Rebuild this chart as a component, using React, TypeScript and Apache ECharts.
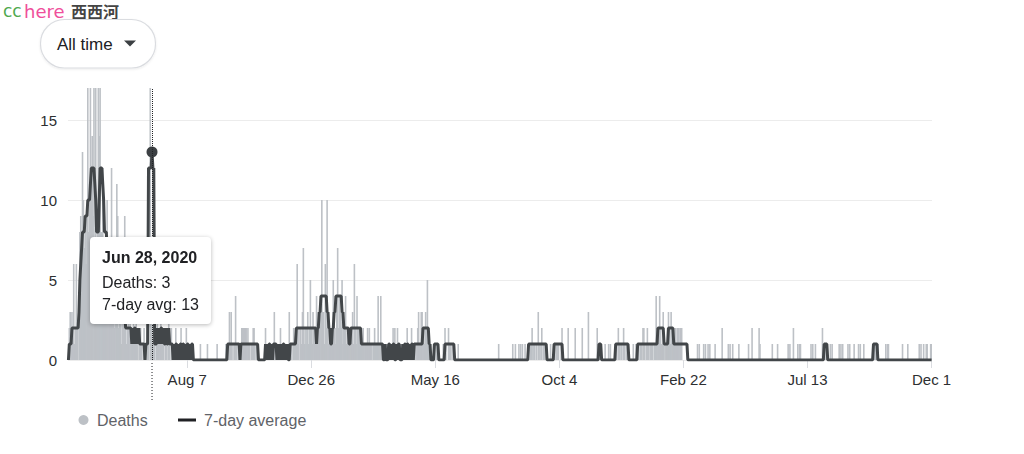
import React, { useEffect, useRef } from "react";
import * as echarts from "echarts";

const FONT = "'Liberation Sans', Arial, Helvetica, sans-serif";

// first day of the series
const startYear = 2020;
const startMonth = 3; // March
const startDay = 25;

const tickDates = ["2020-08-07", "2020-12-26", "2021-05-16", "2021-10-04", "2022-02-22", "2022-07-13", "2022-12-01"];
const tickLabels = ["Aug 7", "Dec 26", "May 16", "Oct 4", "Feb 22", "Jul 13", "Dec 1"];
const highlightDate = "2020-06-28";

// daily deaths, Mar 25 2020 – Dec 31 2020
const deaths2020 = [
  1, 2, 3, 1, 3, 2, 6, 1, 2, 6,
  2, 0, 4, 8, 9, 6, 13, 10, 7, 8,
  6, 9, 18, 8, 11, 17, 12, 14, 9, 18,
  6, 18, 5, 9, 17, 14, 19, 8, 8, 12,
  6, 4, 7, 8, 10, 5, 7, 4, 6, 12,
  3, 5, 2, 6, 4, 11, 9, 2, 3, 4,
  1, 3, 2, 5, 9, 3, 1, 2, 3, 2,
  4, 1, 2, 1, 3, 1, 2, 5, 1, 2,
  0, 1, 2, 1, 0, 1, 2, 0, 0, 1,
  2, 1, 0, 84, 2, 3, 1, 2, 1, 0,
  2, 3, 1, 2, 1, 3, 2, 1, 2, 0,
  1, 2, 1, 0, 3, 1, 0, 2, 1, 0,
  1, 0, 2, 1, 0, 1, 1, 0, 2, 1,
  0, 1, 1, 0, 2, 0, 1, 1, 0, 1,
  0, 1, 0, 0, 0, 0, 0, 0, 0, 0,
  1, 0, 0, 0, 0, 0, 0, 0, 1, 0,
  0, 0, 0, 0, 0, 0, 0, 0, 0, 1,
  0, 0, 0, 0, 0, 0, 0, 0, 0, 1,
  1, 1, 1, 3, 1, 3, 0, 1, 0, 1,
  4, 1, 0, 1, 0, 0, 1, 2, 2, 2,
  2, 2, 2, 1, 2, 1, 1, 0, 1, 1,
  2, 2, 1, 0, 1, 1, 0, 0, 0, 0,
  0, 0, 0, 0, 2, 0, 1, 0, 0, 1,
  0, 0, 1, 0, 3, 0, 1, 0, 0, 1,
  0, 2, 0, 0, 1, 0, 0, 1, 0, 1,
  0, 3, 0, 1, 1, 0, 2, 1, 1, 2,
  6, 1, 2, 0, 2, 1, 3, 7, 1, 2,
  1, 2, 3, 1, 2, 5, 2, 1, 3, 2,
  2, 1,
];

// daily deaths, 2021
const deaths2021 = [
  4, 1, 2, 2, 3, 3, 10, 3, 3, 1,
  6, 2, 10, 2, 1, 1, 2, 1, 2, 5,
  3, 2, 1, 3, 7, 2, 4, 3, 2, 5,
  1, 2, 2, 4, 1, 2, 1, 1, 2, 1,
  2, 3, 1, 6, 2, 1, 4, 2, 2, 2,
  1, 1, 1, 2, 1, 1, 1, 1, 2, 1,
  2, 1, 1, 1, 0, 1, 2, 1, 1, 1,
  4, 1, 1, 4, 1, 1, 0, 1, 0, 0,
  1, 0, 1, 0, 0, 0, 1, 2, 0, 2,
  0, 1, 2, 0, 0, 0, 1, 0, 0, 1,
  0, 0, 1, 2, 0, 1, 0, 0, 2, 0,
  1, 0, 1, 0, 1, 2, 3, 1, 1, 3,
  3, 1, 2, 1, 3, 2, 5, 1, 1, 1,
  0, 0, 0, 1, 0, 0, 1, 1, 0, 0,
  0, 0, 0, 0, 1, 0, 2, 1, 0, 0,
  2, 1, 1, 0, 1, 0, 0, 0, 0, 0,
  0, 1, 0, 0, 0, 0, 0, 0, 0, 0,
  0, 0, 0, 0, 0, 0, 0, 0, 0, 0,
  0, 0, 0, 0, 0, 0, 0, 0, 0, 0,
  0, 0, 0, 0, 0, 0, 0, 0, 0, 0,
  0, 0, 0, 0, 0, 0, 0, 1, 0, 0,
  0, 0, 0, 0, 0, 0, 0, 0, 0, 0,
  0, 0, 0, 1, 0, 0, 1, 0, 0, 0,
  1, 0, 1, 0, 1, 0, 0, 1, 0, 0,
  0, 1, 0, 1, 1, 2, 0, 1, 1, 0,
  1, 0, 3, 1, 0, 1, 2, 0, 1, 1,
  0, 1, 0, 0, 0, 0, 1, 0, 0, 0,
  1, 1, 0, 1, 1, 1, 0, 0, 1, 2,
  0, 0, 0, 0, 0, 0, 2, 0, 0, 0,
  0, 0, 0, 0, 2, 0, 0, 0, 0, 0,
  0, 0, 2, 0, 0, 0, 0, 0, 0, 3,
  0, 0, 0, 0, 0, 0, 0, 0, 0, 2,
  0, 0, 1, 1, 0, 0, 0, 0, 1, 0,
  0, 0, 1, 0, 1, 0, 0, 0, 0, 0,
  1, 1, 0, 2, 1, 0, 1, 1, 0, 2,
  1, 0, 1, 0, 1, 0, 0, 0, 0, 0,
  1, 0, 0, 1, 0,
];

// daily deaths, Jan 1 2022 – Dec 1 2022
const deaths2022 = [
  1, 1, 0, 1, 1, 0, 2, 2, 1, 0,
  1, 2, 1, 0, 1, 1, 1, 1, 0, 1,
  1, 4, 2, 1, 2, 4, 2, 1, 1, 3,
  1, 0, 1, 1, 2, 3, 2, 1, 3, 2,
  2, 2, 1, 2, 1, 2, 2, 2, 1, 2,
  2, 0, 0, 0, 0, 0, 0, 0, 0, 0,
  0, 0, 0, 0, 0, 0, 0, 0, 1, 0,
  1, 0, 0, 0, 0, 1, 0, 1, 0, 0,
  1, 0, 1, 0, 0, 0, 0, 0, 1, 0,
  0, 0, 0, 0, 0, 0, 2, 0, 0, 0,
  0, 0, 0, 1, 0, 1, 0, 0, 1, 0,
  0, 0, 0, 0, 0, 1, 0, 0, 0, 0,
  0, 0, 0, 0, 0, 0, 1, 0, 0, 0,
  2, 0, 0, 0, 0, 0, 0, 0, 2, 1,
  0, 0, 0, 0, 0, 0, 0, 0, 0, 0,
  0, 0, 0, 1, 0, 0, 0, 0, 0, 1,
  0, 0, 0, 0, 0, 0, 0, 0, 0, 0,
  0, 1, 0, 1, 0, 0, 0, 2, 0, 0,
  0, 0, 1, 0, 1, 1, 0, 0, 0, 0,
  0, 0, 0, 0, 0, 0, 0, 1, 0, 1,
  0, 0, 1, 0, 0, 0, 0, 0, 0, 0,
  2, 1, 1, 0, 1, 0, 0, 0, 0, 1,
  0, 1, 0, 0, 0, 0, 0, 0, 0, 1,
  0, 1, 0, 1, 0, 0, 0, 0, 0, 1,
  0, 1, 0, 0, 0, 0, 1, 0, 0, 0,
  0, 1, 0, 1, 0, 0, 0, 1, 0, 0,
  0, 0, 0, 0, 0, 0, 0, 0, 0, 1,
  1, 1, 0, 1, 0, 0, 0, 0, 0, 0,
  0, 0, 1, 0, 1, 1, 0, 0, 0, 0,
  0, 0, 0, 0, 0, 0, 0, 0, 0, 0,
  0, 1, 0, 0, 0, 0, 0, 1, 0, 0,
  0, 0, 0, 0, 0, 0, 0, 0, 0, 0,
  1, 0, 1, 0, 0, 1, 0, 0, 1, 1,
  0, 0, 0, 1, 1,
];

// 7-day average (rounded), Mar 25 2020 – Dec 31 2020
const avg2020 = [
  0, 1, 1, 1, 2, 2, 2, 2, 2, 2,
  2, 2, 3, 5, 6, 7, 8, 8, 8, 9,
  9, 9, 10, 10, 10, 11, 12, 12, 12, 12,
  11, 10, 8, 8, 8, 10, 12, 12, 12, 11,
  10, 8, 8, 8, 7, 7, 7, 6, 6, 6,
  5, 5, 5, 5, 4, 4, 4, 4, 3, 3,
  3, 3, 3, 3, 3, 2, 2, 2, 2, 2,
  2, 2, 1, 2, 1, 2, 2, 1, 2, 1,
  2, 1, 1, 1, 1, 1, 1, 0, 1, 1,
  1, 12, 12, 12, 12, 13, 12, 12, 1, 1,
  1, 2, 1, 2, 1, 2, 2, 1, 2, 1,
  1, 2, 1, 1, 2, 1, 1, 1, 1, 0,
  1, 0, 1, 1, 0, 1, 0, 1, 1, 0,
  1, 1, 0, 1, 0, 1, 1, 0, 1, 0,
  1, 1, 0, 0, 0, 0, 0, 0, 0, 0,
  0, 0, 0, 0, 0, 0, 0, 0, 0, 0,
  0, 0, 0, 0, 0, 0, 0, 0, 0, 0,
  0, 0, 0, 0, 0, 0, 0, 0, 0, 0,
  0, 1, 1, 1, 1, 1, 1, 1, 1, 1,
  1, 1, 1, 1, 1, 0, 1, 1, 1, 1,
  1, 1, 1, 1, 1, 1, 1, 1, 1, 1,
  1, 1, 1, 1, 1, 1, 0, 0, 0, 0,
  0, 0, 0, 0, 1, 0, 1, 0, 1, 1,
  0, 1, 0, 1, 1, 1, 1, 0, 1, 0,
  1, 0, 1, 0, 1, 1, 0, 1, 0, 1,
  0, 0, 1, 1, 1, 1, 1, 1, 1, 2,
  2, 2, 2, 2, 2, 2, 2, 2, 2, 2,
  2, 2, 2, 2, 2, 2, 2, 2, 2, 2,
  2, 2,
];

// 7-day average (rounded), 2021
const avg2021 = [
  1, 2, 2, 3, 3, 4, 4, 4, 4, 4,
  4, 4, 3, 3, 2, 2, 1, 1, 2, 2,
  3, 3, 4, 4, 4, 4, 4, 4, 4, 3,
  3, 2, 2, 2, 2, 2, 2, 1, 1, 2,
  2, 2, 2, 2, 2, 2, 2, 2, 2, 2,
  2, 1, 1, 1, 1, 1, 1, 1, 1, 1,
  1, 1, 1, 1, 1, 1, 1, 1, 1, 1,
  1, 1, 1, 1, 1, 1, 0, 0, 1, 0,
  0, 0, 1, 1, 0, 1, 0, 1, 1, 0,
  0, 1, 0, 1, 1, 0, 0, 0, 1, 0,
  1, 1, 0, 1, 1, 0, 1, 0, 1, 1,
  0, 1, 1, 1, 1, 1, 1, 1, 1, 1,
  1, 2, 2, 2, 2, 2, 2, 2, 1, 1,
  0, 0, 0, 0, 1, 1, 1, 1, 1, 0,
  0, 0, 0, 0, 0, 0, 1, 1, 1, 1,
  1, 1, 1, 1, 1, 1, 1, 0, 0, 0,
  0, 0, 0, 0, 0, 0, 0, 0, 0, 0,
  0, 0, 0, 0, 0, 0, 0, 0, 0, 0,
  0, 0, 0, 0, 0, 0, 0, 0, 0, 0,
  0, 0, 0, 0, 0, 0, 0, 0, 0, 0,
  0, 0, 0, 0, 0, 0, 0, 0, 0, 0,
  0, 0, 0, 0, 0, 0, 0, 0, 0, 0,
  0, 0, 0, 0, 0, 0, 0, 0, 0, 0,
  0, 0, 0, 0, 0, 0, 0, 0, 0, 0,
  0, 1, 1, 1, 1, 1, 1, 1, 1, 1,
  1, 1, 1, 1, 1, 1, 1, 1, 1, 1,
  1, 1, 0, 0, 0, 0, 0, 0, 0, 0,
  1, 1, 1, 1, 1, 1, 1, 1, 1, 1,
  0, 0, 0, 0, 0, 0, 0, 0, 0, 0,
  0, 0, 0, 0, 0, 0, 0, 0, 0, 0,
  0, 0, 0, 0, 0, 0, 0, 0, 0, 0,
  0, 0, 0, 0, 0, 0, 0, 0, 0, 0,
  0, 1, 1, 1, 0, 0, 0, 0, 0, 0,
  0, 0, 0, 0, 0, 0, 0, 0, 0, 0,
  1, 1, 1, 1, 1, 1, 1, 1, 1, 1,
  1, 1, 1, 1, 1, 0, 0, 0, 0, 0,
  0, 0, 0, 0, 0,
];

// 7-day average (rounded), Jan 1 2022 – Dec 1 2022
const avg2022 = [
  1, 1, 1, 1, 1, 1, 1, 1, 1, 1,
  1, 1, 1, 1, 1, 1, 1, 1, 1, 1,
  1, 1, 1, 2, 2, 2, 2, 2, 2, 2,
  1, 1, 1, 1, 1, 2, 2, 2, 2, 2,
  2, 1, 1, 1, 1, 1, 1, 1, 1, 1,
  1, 1, 1, 1, 1, 1, 1, 0, 0, 0,
  0, 0, 0, 0, 0, 0, 0, 0, 0, 0,
  0, 0, 0, 0, 0, 0, 0, 0, 0, 0,
  0, 0, 0, 0, 0, 0, 0, 0, 0, 0,
  0, 0, 0, 0, 0, 0, 0, 0, 0, 0,
  0, 0, 0, 0, 0, 0, 0, 0, 0, 0,
  0, 0, 0, 0, 0, 0, 0, 0, 0, 0,
  0, 0, 0, 0, 0, 0, 0, 0, 0, 0,
  0, 0, 0, 0, 0, 0, 0, 0, 0, 0,
  0, 0, 0, 0, 0, 0, 0, 0, 0, 0,
  0, 0, 0, 0, 0, 0, 0, 0, 0, 0,
  0, 0, 0, 0, 0, 0, 0, 0, 0, 0,
  0, 0, 0, 0, 0, 0, 0, 0, 0, 0,
  0, 0, 0, 0, 0, 0, 0, 0, 0, 0,
  0, 0, 0, 0, 0, 0, 0, 0, 0, 0,
  0, 0, 0, 0, 0, 0, 0, 0, 0, 0,
  0, 0, 1, 1, 1, 1, 0, 0, 0, 0,
  0, 0, 0, 0, 0, 0, 0, 0, 0, 0,
  0, 0, 0, 0, 0, 0, 0, 0, 0, 0,
  0, 0, 0, 0, 0, 0, 0, 0, 0, 0,
  0, 0, 0, 0, 0, 0, 0, 0, 0, 0,
  0, 0, 0, 0, 0, 0, 0, 0, 1, 1,
  1, 1, 1, 0, 0, 0, 0, 0, 0, 0,
  0, 0, 0, 0, 0, 0, 0, 0, 0, 0,
  0, 0, 0, 0, 0, 0, 0, 0, 0, 0,
  0, 0, 0, 0, 0, 0, 0, 0, 0, 0,
  0, 0, 0, 0, 0, 0, 0, 0, 0, 0,
  0, 0, 0, 0, 0, 0, 0, 0, 0, 0,
  0, 0, 0, 0, 0,
];

const MONTHS = ["Jan", "Feb", "Mar", "Apr", "May", "Jun", "Jul", "Aug", "Sep", "Oct", "Nov", "Dec"];

const deaths = [...deaths2020, ...deaths2021, ...deaths2022];
const avg = [...avg2020, ...avg2021, ...avg2022];

const days: string[] = [];
{
  const t0 = Date.UTC(startYear, startMonth - 1, startDay);
  for (let i = 0; i < deaths.length; i++) {
    days.push(new Date(t0 + i * 86400000).toISOString().slice(0, 10));
  }
}

const labelMap: Record<string, string> = {};
tickDates.forEach((d, i) => (labelMap[d] = tickLabels[i]));

function fmtLong(iso: string) {
  const [y, m, d] = iso.split("-").map(Number);
  return `${MONTHS[m - 1]} ${d}, ${y}`;
}

export default function App() {
  const ref = useRef<HTMLDivElement>(null);

  useEffect(() => {
    if (!ref.current) return;
    document.body.style.margin = "0";
    const chart = echarts.init(ref.current, null, { renderer: "svg" });
    const isTick = (_i: number, v: string) => labelMap[v] !== undefined;

    const staticGraphics: any[] = [
      { type: "text", x: 3, y: 11, style: { text: "cc", fill: "#4fa94f", fontSize: 17, fontFamily: "'DejaVu Sans', sans-serif", verticalAlign: "middle" } },
      { type: "text", x: 24, y: 11, style: { text: "here", fill: "#ef4f9b", fontSize: 18, fontFamily: "'DejaVu Sans', sans-serif", verticalAlign: "middle" } },
      { type: "text", x: 71, y: 11, style: { text: "西西河", fill: "#444444", fontSize: 16, fontWeight: "bold", fontFamily: "'Noto Sans CJK SC', sans-serif", verticalAlign: "middle" } },
      {
        type: "rect",
        shape: { x: 40.5, y: 19.5, width: 115, height: 48.5, r: 24 },
        style: { fill: "#ffffff", stroke: "#dadce0", lineWidth: 1.2, shadowBlur: 2, shadowColor: "rgba(0,0,0,0.08)", shadowOffsetY: 1 },
      },
      { type: "text", x: 57, y: 44, style: { text: "All time", fill: "#202124", fontSize: 17, fontFamily: FONT, verticalAlign: "middle" } },
      { type: "polygon", shape: { points: [[124, 40.5], [136, 40.5], [130, 46.5]] }, style: { fill: "#3c4043" } },
      { type: "circle", shape: { cx: 83.5, cy: 420, r: 5 }, style: { fill: "#bdc1c6" } },
      { type: "text", x: 97, y: 420, style: { text: "Deaths", fill: "#5f6368", fontSize: 16, fontFamily: FONT, verticalAlign: "middle" } },
      { type: "rect", shape: { x: 178, y: 418.5, width: 18, height: 3 }, style: { fill: "#202124" } },
      { type: "text", x: 204, y: 420, style: { text: "7-day average", fill: "#5f6368", fontSize: 16, fontFamily: FONT, verticalAlign: "middle" } },
    ];

    chart.setOption({
      animation: false,
      textStyle: { fontFamily: FONT },
      grid: { left: 68, right: 92, top: 88, bottom: 94 },
      xAxis: {
        type: "category",
        data: days,
        boundaryGap: true,
        axisLine: { show: false },
        axisTick: {
          show: true,
          alignWithLabel: true,
          length: 8,
          interval: isTick,
          lineStyle: { color: "#dadce0" },
        },
        axisLabel: {
          interval: isTick,
          formatter: (v: string) => labelMap[v] ?? "",
          color: "#2d2f31",
          fontSize: 15,
          margin: 12,
          fontFamily: FONT,
        },
        splitLine: { show: false },
      },
      yAxis: {
        type: "value",
        min: 0,
        max: 17,
        interval: 5,
        axisLine: { show: false },
        axisTick: { show: false },
        axisLabel: { showMaxLabel: false, color: "#2d2f31", fontSize: 15, margin: 11, fontFamily: FONT },
        splitLine: { show: true, showMaxLine: false, lineStyle: { color: "#ececec", width: 1 } },
      },
      tooltip: {
        trigger: "axis",
        alwaysShowContent: true,
        backgroundColor: "#ffffff",
        borderWidth: 0,
        padding: [9, 12, 8, 12],
        extraCssText: "box-shadow: 0 1px 4px rgba(0,0,0,0.28); border-radius: 4px;",
        textStyle: { color: "#202124", fontSize: 16, fontFamily: FONT },
        axisPointer: {
          type: "line",
          lineStyle: { color: "#202124", type: "dotted", width: 1 },
        },
        position: (point: number[]) => [point[0] - 62, point[1] + 85],
        formatter: (params: any) => {
          const p = Array.isArray(params) ? params : [params];
          const i = p[0].dataIndex;
          return (
            `<div style="font-weight:bold;line-height:24px;margin-bottom:2px">${fmtLong(days[i])}</div>` +
            `<div style="line-height:22px">Deaths: ${deaths[i]}</div>` +
            `<div style="line-height:22px">7-day avg: ${avg[i]}</div>`
          );
        },
      },
      series: [
        {
          name: "Deaths",
          type: "bar",
          data: deaths,
          barWidth: 1.6,
          itemStyle: { color: "#bdc1c6" },
          emphasis: { disabled: true },
          z: 2,
        },
        {
          name: "7-day average",
          type: "line",
          data: avg,
          showSymbol: false,
          symbol: "circle",
          symbolSize: 11,
          lineStyle: { color: "#3c4043", width: 3 },
          itemStyle: { color: "#3c4043" },
          emphasis: { scale: false, lineStyle: { width: 3 } },
          z: 3,
        },
      ],
      graphic: staticGraphics,
    });

    const idx = days.indexOf(highlightDate);
    // extend the cursor line below the axis, positioned through the axis scale
    const px = chart.convertToPixel({ xAxisIndex: 0 }, idx) as number;
    const py = chart.convertToPixel({ yAxisIndex: 0 }, 0) as number;
    chart.setOption({
      graphic: [
        ...staticGraphics,
        {
          type: "line",
          shape: { x1: px, y1: py, x2: px, y2: py + 40 },
          style: { stroke: "#202124", lineWidth: 1, lineDash: [1, 2] },
        },
      ],
    });

    chart.dispatchAction({ type: "showTip", seriesIndex: 1, dataIndex: idx });

    return () => chart.dispose();
  }, []);

  return (
    <div
      ref={ref}
      style={{ position: "relative", width: 1024, height: 454, background: "#ffffff" }}
    />
  );
}
